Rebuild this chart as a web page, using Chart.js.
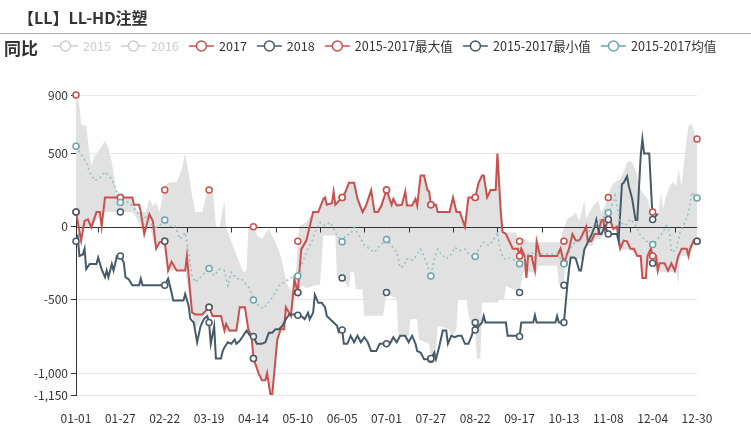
<!DOCTYPE html>
<html>
<head>
<meta charset="utf-8">
<script src="https://cdn.jsdelivr.net/npm/chart.js@4/dist/chart.umd.min.js"></script>
<style>
html,body{margin:0;padding:0;background:#fff}
canvas{display:block}
</style>
</head>
<body>
<canvas id="chart" width="751" height="437"></canvas>
<script>
// day index on the x axis (0 = 01-01), labels every 26 days
const markerDays = [0,26,52,78,104,130,156,182,208,234,260,286,312,338,364];
const xTickLabels = ['01-01','01-27','02-22','03-19','04-14','05-10','06-05','07-01','07-27','08-22','09-17','10-13','11-08','12-04','12-30'];
const axisTickDays = [13,39,65,91,117,143,169,195,221,247,273,299,325,351];
const yTicks = [900,500,0,-500,-1000,-1150];

const legendNames = ['2015','2016','2017','2018','2015-2017最大值','2015-2017最小值','2015-2017均值'];

// [day, value]
const line2017 = [[0,100],[3,-95],[5,40],[7,50],[9,-5],[12,100],[14,100],[15,0],[17,200],[26,200],[33,200],[34,150],[37,150],[38,100],[40,-50],[43,85],[45,40],[47,-150],[49,-105],[52,-100],[54,-300],[56,-240],[59,-300],[64,-300],[65,-200],[68,-585],[70,-600],[74,-600],[78,-550],[80,-610],[85,-610],[87,-710],[88,-665],[90,-710],[94,-710],[96,-550],[99,-550],[101,-700],[103,-757],[104,-900],[107,-1000],[109,-1050],[111,-1050],[112,-1000],[114,-1150],[115,-1150],[118,-770],[120,-700],[122,-700],[123,-550],[126,-610],[128,-360],[130,-450],[131,-300],[132,-155],[135,-95],[139,100],[142,100],[145,190],[146,200],[147,150],[150,160],[151,240],[152,150],[156,200],[158,240],[160,300],[163,300],[165,190],[168,100],[170,145],[173,250],[175,100],[177,100],[179,145],[182,250],[185,150],[186,190],[188,145],[191,150],[193,240],[194,145],[197,145],[199,190],[200,145],[202,350],[204,350],[206,250],[207,240],[208,150],[211,150],[212,100],[214,100],[219,100],[221,200],[223,100],[225,100],[228,0],[230,200],[232,200],[234,200],[236,300],[238,350],[239,350],[241,200],[243,250],[246,250],[247,500],[249,100],[250,-35],[252,-50],[254,-100],[256,-150],[259,-150],[260,-200],[261,-150],[263,-200],[264,-350],[265,-200],[267,-200],[269,-300],[270,-100],[272,-200],[282,-200],[284,-150],[286,-250],[289,-150],[291,-50],[293,-95],[295,-95],[297,-50],[299,0],[300,-100],[302,-100],[304,-50],[306,-50],[308,45],[309,45],[310,-20],[312,50],[313,45],[315,-15],[317,0],[319,-150],[321,-95],[323,-100],[325,-150],[327,-150],[329,-200],[331,-200],[332,-350],[334,-350],[335,-200],[337,-150],[338,-200],[340,-200],[341,-300],[342,-250],[345,-250],[347,-300],[349,-250],[351,-300],[353,-200],[355,-150],[358,-150],[359,-200],[360,-150],[362,-95],[364,-100]];

const line2018 = [[0,-100],[1,-70],[2,-200],[4,-190],[5,-150],[6,-290],[8,-255],[12,-255],[13,-210],[15,-290],[17,-345],[18,-300],[19,-345],[21,-255],[22,-300],[24,-200],[26,-200],[28,-245],[29,-345],[31,-360],[33,-400],[37,-400],[38,-355],[39,-400],[52,-400],[54,-355],[56,-450],[57,-505],[63,-505],[64,-460],[66,-540],[67,-630],[69,-655],[71,-790],[73,-680],[75,-630],[77,-610],[78,-655],[79,-800],[81,-680],[82,-900],[85,-900],[86,-850],[87,-825],[89,-790],[91,-800],[93,-770],[94,-800],[96,-780],[98,-745],[100,-710],[102,-745],[104,-750],[106,-800],[109,-800],[111,-790],[113,-725],[115,-725],[117,-700],[119,-700],[121,-677],[123,-632],[125,-600],[128,-600],[130,-605],[132,-610],[134,-632],[136,-588],[137,-632],[139,-588],[140,-465],[142,-520],[144,-520],[146,-550],[147,-610],[149,-632],[151,-655],[153,-677],[154,-720],[156,-705],[157,-800],[159,-800],[161,-745],[163,-790],[165,-745],[167,-790],[169,-755],[171,-790],[173,-850],[176,-850],[178,-800],[182,-800],[184,-800],[186,-755],[188,-790],[190,-745],[193,-745],[195,-790],[197,-745],[199,-800],[200,-850],[202,-860],[204,-905],[208,-905],[210,-860],[211,-905],[213,-815],[215,-710],[217,-710],[218,-800],[220,-745],[222,-755],[224,-745],[226,-745],[228,-800],[230,-800],[232,-745],[234,-655],[235,-700],[236,-680],[238,-655],[239,-610],[240,-655],[252,-655],[253,-745],[258,-745],[260,-750],[261,-655],[268,-655],[269,-605],[270,-655],[281,-655],[282,-610],[283,-655],[286,-655],[288,-400],[289,-290],[290,-210],[292,-210],[293,-220],[295,-300],[296,-300],[298,-155],[300,-105],[302,-60],[304,0],[305,46],[306,-15],[307,-50],[308,-50],[310,5],[312,-50],[317,-50],[318,-95],[320,290],[321,300],[323,345],[324,280],[326,190],[328,45],[329,45],[331,485],[332,600],[333,500],[336,500],[338,50],[340,75],[341,90]];

const lineAvg = [[0,550],[2,510],[6,440],[8,372],[11,315],[14,335],[17,375],[21,325],[24,235],[26,165],[29,178],[32,155],[36,98],[38,64],[41,64],[44,18],[47,-5],[50,18],[52,45],[55,5],[58,5],[61,-85],[64,-40],[66,-175],[68,-335],[70,-380],[73,-345],[76,-310],[78,-285],[81,-335],[84,-290],[87,-300],[89,-405],[91,-310],[94,-355],[97,-355],[100,-400],[102,-425],[104,-500],[107,-540],[110,-560],[113,-515],[116,-470],[119,-400],[122,-380],[125,-357],[128,-335],[130,-336],[132,-267],[135,-175],[138,-107],[140,-40],[143,30],[146,7],[149,30],[151,-15],[153,-60],[156,-103],[158,-60],[161,-50],[163,-5],[166,-60],[169,-130],[172,-150],[175,-175],[178,-130],[182,-87],[185,-130],[188,-175],[190,-280],[192,-267],[194,-220],[196,-233],[198,-220],[200,-187],[202,-153],[204,-200],[206,-267],[208,-336],[210,-220],[212,-153],[214,-187],[217,-220],[220,-187],[222,-140],[225,-164],[228,-153],[231,-198],[234,-203],[236,-153],[239,-107],[242,-130],[245,-84],[247,-39],[249,-175],[251,-220],[253,-210],[256,-220],[260,-253],[263,-220],[266,-175],[269,-187],[276,-187],[282,-187],[286,-253],[289,-175],[291,-118],[294,-107],[297,-73],[300,-39],[303,-5],[306,30],[309,64],[312,96],[314,144],[316,214],[317,144],[319,30],[322,7],[325,52],[328,7],[331,-62],[334,-96],[338,-121],[341,-84],[344,-39],[346,7],[348,-39],[349,-175],[352,-153],[354,-39],[357,30],[359,98],[361,235],[363,212],[364,196]];

// 2015-2017 range band (top = max, bottom = min)
const bandMax = [[0,900],[2,830],[3,700],[6,690],[8,486],[9,417],[11,486],[14,531],[17,588],[19,540],[21,440],[24,212],[26,200],[33,200],[36,100],[41,100],[43,189],[45,140],[47,165],[49,100],[52,280],[55,303],[59,303],[62,394],[64,497],[66,372],[68,212],[70,100],[74,100],[77,246],[78,250],[80,280],[82,5],[84,-5],[87,178],[88,-5],[92,-130],[95,-220],[98,-312],[100,-300],[101,-15],[104,30],[106,-60],[109,-84],[113,-15],[117,-107],[120,-200],[124,-404],[127,-450],[129,-310],[130,-100],[131,7],[135,30],[139,100],[142,100],[145,190],[146,200],[147,150],[150,160],[151,240],[152,150],[156,200],[158,240],[160,300],[163,300],[165,190],[168,100],[170,145],[173,250],[175,100],[177,100],[179,145],[182,250],[185,150],[186,190],[188,145],[191,150],[193,240],[194,145],[197,145],[199,190],[200,145],[202,350],[204,350],[206,250],[207,240],[208,150],[211,150],[212,100],[214,100],[219,100],[221,200],[223,100],[225,100],[228,0],[230,200],[232,200],[234,200],[236,300],[238,350],[239,350],[241,200],[243,250],[246,250],[247,500],[249,100],[250,-35],[252,-39],[258,-39],[259,-84],[264,-84],[265,-107],[284,-107],[285,-39],[288,52],[291,75],[293,98],[295,41],[298,178],[299,52],[301,98],[303,144],[306,178],[308,98],[310,144],[312,212],[314,280],[316,303],[319,326],[321,372],[323,440],[325,451],[327,417],[329,349],[330,280],[332,235],[335,189],[337,98],[338,100],[339,52],[341,64],[343,235],[344,121],[346,212],[348,280],[350,303],[352,280],[353,394],[355,280],[357,508],[359,691],[361,702],[363,622],[364,600]];

const bandMin = [[0,100],[2,-90],[3,-95],[5,0],[8,0],[9,-5],[12,50],[17,100],[26,100],[33,100],[36,50],[40,-50],[43,0],[47,-150],[49,-105],[52,-100],[54,-300],[59,-300],[64,-300],[66,-450],[68,-600],[70,-700],[74,-620],[78,-550],[80,-620],[85,-620],[87,-720],[90,-720],[94,-720],[96,-560],[99,-560],[101,-700],[103,-760],[104,-900],[107,-1000],[109,-1050],[111,-1050],[112,-1000],[114,-1150],[115,-1150],[118,-770],[120,-700],[122,-700],[123,-600],[126,-610],[128,-500],[130,-450],[132,-400],[135,-420],[140,-400],[143,-400],[145,-60],[152,-60],[153,-350],[156,-354],[160,-420],[161,-312],[163,-312],[164,-427],[168,-427],[169,-609],[180,-609],[182,-454],[188,-495],[189,-745],[195,-745],[196,-632],[200,-632],[201,-770],[207,-800],[208,-900],[211,-860],[212,-677],[219,-700],[220,-750],[223,-700],[224,-495],[229,-495],[230,-600],[233,-700],[234,-705],[235,-900],[237,-900],[238,-518],[247,-518],[248,-495],[251,-495],[252,-404],[260,-450],[262,-312],[270,-312],[271,-267],[282,-267],[283,-392],[286,-400],[287,-244],[291,-221],[297,-221],[298,-130],[303,-130],[304,-84],[308,-84],[310,-20],[312,50],[314,-15],[317,-15],[318,-150],[319,-155],[325,-155],[329,-200],[331,-210],[332,-350],[334,-350],[335,-250],[338,-250],[340,-300],[341,-312],[352,-312],[353,-404],[354,-200],[358,-200],[364,-100]];

// symbols of the max / min series at the labelled days
const maxValues = [900,200,250,250,0,-100,200,250,150,200,-100,-100,200,100,600];
const minValues = [100,100,-100,-550,-900,-450,-350,-450,-900,-705,-450,-400,50,-250,-100];

const RED = '#c9504d';
const DARK = '#475a68';
const TEAL = '#6aa6ab';
const FONT = '"Microsoft YaHei","Noto Sans CJK SC",sans-serif';

Chart.defaults.font.family = FONT;
Chart.defaults.color = '#333';

const toXY = pairs => pairs.map(p => ({x: p[0], y: p[1]}));
const atMarkers = pairs => toXY(pairs.filter(p => markerDays.includes(p[0])));
const fromValues = vals => vals.map((v, i) => ({x: markerDays[i], y: v}));

const lineDs = (label, data, color, order, extra) => Object.assign({
  label: label, data: toXY(data), borderColor: color, borderWidth: 2,
  pointRadius: 0, fill: false, order: order
}, extra || {});

const markerDs = (label, data, color, order) => ({
  label: label, data: data, showLine: false, order: order, clip: false,
  pointRadius: 3, pointBorderWidth: 1.5, pointBorderColor: color,
  pointBackgroundColor: '#fff', borderColor: color
});

// zero axis line with its tick marks, drawn right after the band
const zeroAxis = {
  id: 'zeroAxis',
  afterDatasetDraw(chart, args){
    if (args.index !== 0) return;
    const {ctx, chartArea, scales} = chart;
    const y0 = Math.round(scales.y.getPixelForValue(0)) + 0.5;
    ctx.save();
    ctx.strokeStyle = '#333';
    ctx.lineWidth = 1;
    ctx.beginPath();
    ctx.moveTo(chartArea.left, y0);
    ctx.lineTo(chartArea.right, y0);
    axisTickDays.forEach(d => {
      const px = Math.round(scales.x.getPixelForValue(d)) + 0.5;
      ctx.moveTo(px, y0);
      ctx.lineTo(px, y0 + 5);
    });
    ctx.stroke();
    ctx.restore();
  }
};

// title, separator, axis name and legend
const header = {
  id: 'header',
  afterDraw(chart){
    const ctx = chart.ctx;
    ctx.save();
    ctx.textBaseline = 'middle';
    ctx.fillStyle = '#333';
    ctx.font = 'bold 16px ' + FONT;
    ctx.fillText('【LL】LL-HD注塑', 18, 18);
    ctx.strokeStyle = '#aaa';
    ctx.lineWidth = 1;
    ctx.beginPath();
    ctx.moveTo(0, 33.5);
    ctx.lineTo(751, 33.5);
    ctx.stroke();
    ctx.font = 'bold 17px ' + FONT;
    ctx.fillText('同比', 4, 49);

    const colors = ['#ccc', '#ccc', RED, DARK, RED, DARK, TEAL];
    ctx.font = '12.6px ' + FONT;
    let x = 53;
    const y = 46;
    legendNames.forEach((name, i) => {
      const c = colors[i];
      ctx.strokeStyle = c;
      ctx.lineWidth = 1.5;
      ctx.beginPath();
      ctx.moveTo(x, y);
      ctx.lineTo(x + 25, y);
      ctx.stroke();
      ctx.beginPath();
      ctx.arc(x + 12.5, y, 5, 0, Math.PI * 2);
      ctx.fillStyle = '#fff';
      ctx.fill();
      ctx.stroke();
      ctx.fillStyle = i < 2 ? '#ccc' : '#333';
      ctx.fillText(name, x + 30, y);
      x += 30 + ctx.measureText(name).width + 10;
    });
    ctx.restore();
  }
};

new Chart(document.getElementById('chart'), {
  type: 'line',
  data: {
    datasets: [
      {label: 'max', data: toXY(bandMax), fill: '+1', backgroundColor: '#e1e1e1',
       borderWidth: 0, borderColor: 'rgba(0,0,0,0)', pointRadius: 0, order: 20},
      {label: 'min', data: toXY(bandMin), fill: false,
       borderWidth: 0, borderColor: 'rgba(0,0,0,0)', pointRadius: 0, order: 21},
      lineDs('2017', line2017, RED, 9),
      lineDs('2018', line2018, DARK, 8),
      lineDs('2015-2017均值', lineAvg, '#8fbfc2', 7, {borderWidth: 1.5, borderDash: [2, 3]}),
      markerDs('2017 points', atMarkers(line2017), RED, 5),
      markerDs('2018 points', atMarkers(line2018), DARK, 4),
      markerDs('2015-2017最大值', fromValues(maxValues), RED, 3),
      markerDs('2015-2017最小值', fromValues(minValues), DARK, 2),
      markerDs('2015-2017均值 points', atMarkers(lineAvg), TEAL, 1)
    ]
  },
  options: {
    responsive: false,
    animation: false,
    layout: {padding: {top: 95, right: 54, bottom: 0, left: 0}},
    plugins: {legend: {display: false}, tooltip: {enabled: false}},
    elements: {line: {tension: 0}},
    scales: {
      x: {
        type: 'linear', min: 0, max: 364,
        afterBuildTicks: s => { s.ticks = markerDays.map(v => ({value: v})); },
        afterFit: s => { s.height = 42; },
        grid: {display: false},
        border: {display: false},
        ticks: {color: '#333', font: {size: 12}, padding: 8, maxRotation: 0, autoSkip: false,
          callback: v => xTickLabels[Math.round(v / 26)]}
      },
      y: {
        min: -1150, max: 900,
        afterBuildTicks: s => { s.ticks = yTicks.map(v => ({value: v})); },
        afterFit: s => { s.width = 76; },
        grid: {
          color: c => (c.tick && c.tick.value === 0) ? 'rgba(0,0,0,0)' : '#e6e6e6',
          tickColor: '#333', tickLength: 5
        },
        border: {color: '#333'},
        ticks: {color: '#333', font: {size: 12}, padding: 3,
          callback: v => v.toLocaleString('en-US')}
      }
    }
  },
  plugins: [zeroAxis, header]
});
</script>
</body>
</html>
